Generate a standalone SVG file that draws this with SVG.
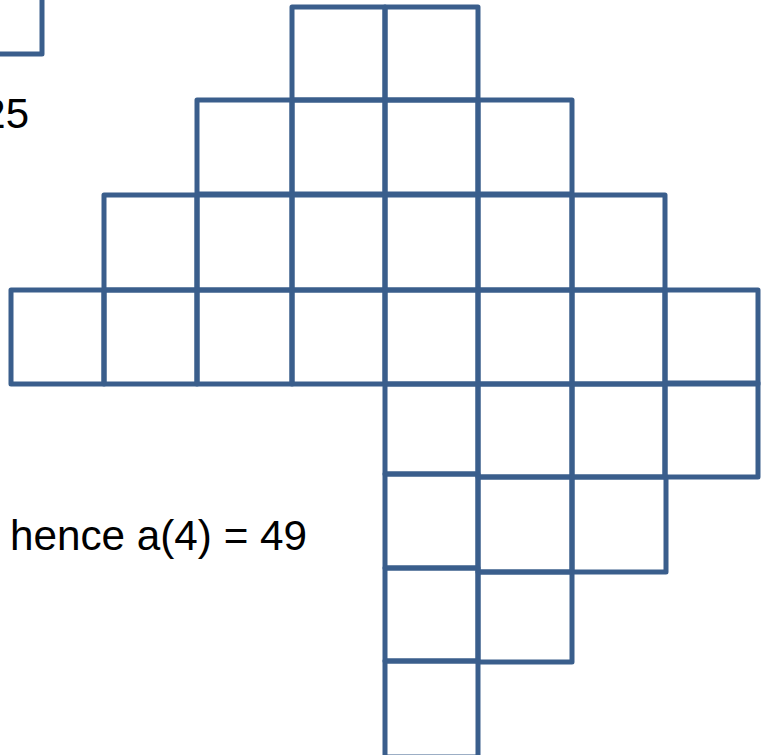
<svg xmlns="http://www.w3.org/2000/svg" width="769" height="755" viewBox="0 0 769 755">
<style>
rect.c{fill:none;stroke:#3A5E8C;stroke-width:5;stroke-linejoin:round}
text{font-family:"Liberation Sans",Arial,sans-serif;font-size:42px;fill:#000}
</style>
<rect width="769" height="755" fill="#fff"/>
<g id="corner"><rect class="c" x="-51" y="-39" width="93" height="93"/></g>
<g id="squares">
<rect class="c" x="292" y="7" width="93" height="93"/>
<rect class="c" x="385" y="7" width="93" height="93"/>
<rect class="c" x="197" y="100" width="95" height="94"/>
<rect class="c" x="292" y="100" width="93" height="94"/>
<rect class="c" x="385" y="100" width="93" height="94"/>
<rect class="c" x="478" y="100" width="94" height="94"/>
<rect class="c" x="104" y="195" width="93" height="95"/>
<rect class="c" x="197" y="195" width="95" height="95"/>
<rect class="c" x="292" y="195" width="93" height="95"/>
<rect class="c" x="385" y="195" width="93" height="95"/>
<rect class="c" x="478" y="195" width="94" height="95"/>
<rect class="c" x="572" y="195" width="93" height="95"/>
<rect class="c" x="11" y="290" width="93" height="94"/>
<rect class="c" x="104" y="290" width="93" height="94"/>
<rect class="c" x="197" y="290" width="95" height="94"/>
<rect class="c" x="292" y="290" width="93" height="94"/>
<rect class="c" x="385" y="290" width="93" height="94"/>
<rect class="c" x="478" y="290" width="94" height="94"/>
<rect class="c" x="572" y="290" width="93" height="94"/>
<rect class="c" x="665" y="290" width="93" height="94"/>
<rect class="c" x="385" y="384" width="93" height="90"/>
<rect class="c" x="478" y="384" width="94" height="93"/>
<rect class="c" x="572" y="384" width="93" height="93"/>
<rect class="c" x="665" y="383" width="93" height="94"/>
<rect class="c" x="385" y="474" width="93" height="94"/>
<rect class="c" x="478" y="477" width="94" height="95"/>
<rect class="c" x="572" y="477" width="94" height="95"/>
<rect class="c" x="385" y="568" width="93" height="93"/>
<rect class="c" x="478" y="572" width="94" height="90"/>
<rect class="c" x="385" y="661" width="93" height="96"/>
</g>
<g id="labels">
<text x="29" y="128" text-anchor="end">25</text>
<text x="10" y="550" textLength="297" lengthAdjust="spacingAndGlyphs">hence a(4) = 49</text>
</g>
</svg>
